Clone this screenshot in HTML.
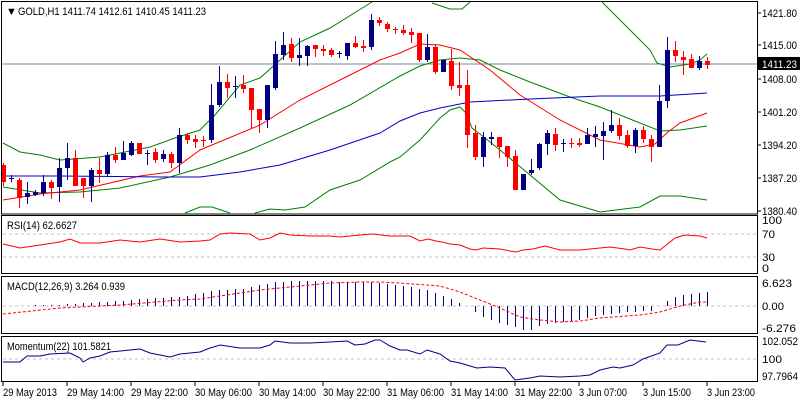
<!DOCTYPE html>
<html><head><meta charset="utf-8">
<style>
html,body{margin:0;padding:0;background:#fff;}
svg{display:block;font-family:"Liberation Sans",Tahoma,sans-serif;font-size:11px;}
</style></head>
<body>
<svg id="c" width="800" height="400" xmlns="http://www.w3.org/2000/svg"></svg>
<script>
var s='';
function L(pts,col,w,dash){s+='<polyline fill="none" stroke="'+col+'" stroke-width="'+(w||1)+'"'+(dash?' stroke-dasharray="'+dash+'"':'')+' points="'+pts.map(function(p){return p[0]+','+p[1]}).join(' ')+'"/>';}
function T(x,y,t,col,tl){s+='<text x="'+x+'" y="'+y+'" fill="'+(col||'#000')+'"'+(tl?' textLength="'+tl+'" lengthAdjust="spacingAndGlyphs"':'')+'>'+t+'</text>';}
function R(x,y,w,h,f,st){s+='<rect x="'+x+'" y="'+y+'" width="'+w+'" height="'+h+'" fill="'+(f||'none')+'"'+(st?' stroke="'+st+'"':'')+'/>';}
R(0,0,800,400,'#fff');
L([[3,64],[757,64]],'#778899');
L([[3,143],[20,152],[40,155],[60,160],[100,157],[150,147],[175,138],[200,130],[215,115],[240,85],[260,78],[300,42],[330,28],[372,2]],'#008000');
L([[432,3],[450,9],[462,9],[470,2]],'#008000');
L([[602,2],[630,30],[650,50],[657,63],[670,67],[690,64],[700,60],[707,54]],'#008000');
L([[3,187],[40,193],[80,192],[120,188],[170,177],[210,165],[250,150],[300,128],[350,105],[400,76],[420,66],[440,60],[460,58],[480,60],[500,70],[530,82],[570,97],[600,107],[640,123],[660,131],[680,130],[707,126]],'#008000');
L([[185,213],[200,207],[212,207],[230,213]],'#008000');
L([[255,213],[270,209],[285,210],[305,207],[330,190],[360,180],[390,162],[400,157],[420,140],[440,118],[450,110],[460,107],[466,113],[472,128],[480,134],[500,150],[530,175],[560,200],[600,212],[640,207],[660,196],[680,196],[707,200]],'#008000');
L([[3,200],[40,194],[80,190],[140,176],[170,172],[200,150],[260,125],[300,100],[340,80],[380,60],[400,53],[420,44],[440,45],[460,50],[490,70],[520,95],[560,120],[600,140],[640,147],[655,144],[668,132],[680,123],[707,113]],'#ff0000');
L([[3,176],[60,176],[160,177],[200,177],[240,172],[280,165],[330,150],[380,133],[400,121],[420,113],[440,108],[470,102],[530,99],[600,96],[660,96],[707,93]],'#0000cc');
var C=[[165,182,163,186,'r'],[178,178,175,182,'b'],[180,198,178,208,'r'],[193,197,182,204,'b'],[192,195,190,196,'b'],[182,193,175,196,'b'],[182,188,180,199,'r'],[168,187,158,202,'b'],[158,168,143,180,'b'],[158,186,150,186,'r'],[178,186,178,198,'r'],[170,186,168,202,'b'],[170,174,158,183,'r'],[155,174,152,176,'b'],[155,160,147,163,'r'],[153,160,141,160,'b'],[143,155,141,156,'b'],[143,154,143,154,'r'],[153,153,150,165,'b'],[152,160,148,163,'r'],[154,159,150,162,'b'],[154,163,152,168,'r'],[135,163,128,173,'b'],[135,140,133,144,'r'],[139,142,135,148,'r'],[140,141,136,147,'r'],[105,140,84,143,'b'],[82,105,66,107,'b'],[82,88,74,98,'r'],[86,86,76,98,'b'],[85,89,75,93,'r'],[88,110,88,128,'r'],[109,120,109,133,'r'],[85,120,85,128,'b'],[54,88,41,90,'b'],[45,55,32,60,'b'],[44,58,38,62,'r'],[55,58,38,66,'b'],[46,56,45,66,'b'],[45,49,45,57,'r'],[49,51,45,56,'r'],[50,55,48,57,'r'],[53,53,51,58,'b'],[43,56,43,60,'b'],[43,47,36,48,'r'],[46,48,40,52,'r'],[20,47,14,50,'b'],[20,23,17,26,'r'],[24,29,22,32,'r'],[29,30,27,34,'r'],[30,33,25,35,'r'],[32,35,28,43,'r'],[33,60,33,62,'r'],[47,60,34,62,'b'],[47,72,44,74,'r'],[60,72,60,72,'b'],[61,86,49,90,'r'],[85,88,62,96,'r'],[85,135,70,148,'r'],[133,157,125,160,'r'],[137,157,132,167,'b'],[137,139,132,145,'b'],[137,147,137,158,'r'],[146,157,146,167,'r'],[156,190,150,190,'r'],[174,190,174,190,'b'],[170,173,159,175,'b'],[144,168,143,170,'b'],[133,144,130,155,'b'],[134,145,128,151,'r'],[143,143,139,152,'b'],[143,144,138,148,'r'],[143,145,138,147,'r'],[135,144,128,144,'b'],[134,137,126,147,'b'],[131,136,122,160,'b'],[125,131,110,133,'b'],[125,136,118,140,'r'],[135,146,130,148,'r'],[130,146,128,153,'b'],[130,139,126,143,'r'],[139,147,135,162,'r'],[101,147,85,147,'b'],[50,101,37,108,'b'],[50,56,41,62,'r'],[57,60,51,75,'r'],[59,68,54,68,'r'],[61,68,56,70,'b'],[61,65,57,69,'r']];
for(var i=0;i<C.length;i++){var x=3+i*8,c=C[i],col=c[4]=='r'?'#ff0000':'#000080';
 s+='<line x1="'+(x+0.5)+'" y1="'+c[2]+'" x2="'+(x+0.5)+'" y2="'+c[3]+'" stroke="'+col+'"/>';
 var h=Math.max(1,c[1]-c[0]);R(x-2,c[0],5,h,col);}
s+='<g stroke="#000" fill="none"><rect x="1.5" y="1.5" width="756" height="212.5"/><rect x="1.5" y="215.5" width="756" height="58"/><rect x="1.5" y="276.5" width="756" height="57"/><rect x="1.5" y="336.5" width="756" height="45"/></g>';
var pl=[['1421.80',13],['1415.00',45],['1408.00',79],['1401.20',112],['1394.20',145],['1387.20',178],['1380.40',211]];
pl.forEach(function(p){L([[757,p[1]],[761,p[1]]],'#000');T(762,p[1]+4,p[0],'#000',35);});
R(758,57,42,13,'#000');T(762,68,'1411.23','#fff',35);
T(6,15,'\u25BC','#000');
T(18,15,'GOLD,H1  1411.74 1412.61 1410.45 1411.23','#000',188);
L([[3,234],[757,234]],'#c0c0c0',1,'3,3');L([[3,257],[757,257]],'#c0c0c0',1,'3,3');
L([[3,244],[20,248],[40,245],[60,242],[70,239],[80,243],[100,243],[120,240],[140,242],[160,239],[180,242],[200,241],[210,240],[220,234],[230,233],[250,234],[260,240],[270,238],[280,233],[290,235],[310,236],[330,236],[340,237],[360,235],[372,234],[390,236],[410,236],[420,241],[428,239],[436,241],[442,242],[450,244],[460,245],[470,249],[476,250],[483,248],[500,249],[510,251],[516,252],[523,250],[533,249],[545,246],[560,250],[580,250],[600,248],[610,247],[625,249],[630,250],[640,247],[652,249],[660,250],[675,238],[685,235],[700,236],[707,238]],'#ff0000');
T(7,229,'RSI(14) 62.6627','#000',70);
[['100',224,20],['70',238,13],['30',261,13],['0',272,7]].forEach(function(p){T(762,p[1],p[0],'#000',p[2]);});
L([[3,306],[757,306]],'#c0c0c0',1,'3,3');
var M=[[3,306],[59,305],[131,300],[179,297],[219,290],[243,289],[275,282],[307,281],[371,282],[395,285],[411,287],[427,290],[443,296],[451,299],[459,303],[467,306],[475,312],[483,317],[499,323],[515,327],[523,330],[531,330],[539,326],[555,323],[579,320],[595,316],[619,313],[651,311],[659,306],[667,301],[675,297],[691,294],[707,292]];
function interp(a,x){for(var j=0;j<a.length-1;j++){if(x>=a[j][0]&&x<=a[j+1][0]){var t=(x-a[j][0])/(a[j+1][0]-a[j][0]);return a[j][1]+t*(a[j+1][1]-a[j][1]);}}return a[a.length-1][1];}
for(var i=0;i<89;i++){var x=3+i*8+0.5,y=Math.round(interp(M,x));if(Math.abs(y-306)>=1)s+='<line x1="'+x+'" y1="306" x2="'+x+'" y2="'+y+'" stroke="#000080"/>';}
L([[3,314],[60,308],[120,305],[180,300],[200,299],[220,296],[260,290],[300,286],[330,283],[360,282],[380,282],[400,283],[440,286],[460,292],[480,300],[500,308],[520,317],[540,320],[560,322],[580,321],[600,318],[640,315],[660,312],[680,306],[700,302],[707,302]],'#ff0000',1,'3,2');
T(7,290,'MACD(12,26,9) 3.264 0.939','#000',118);
[['6.623',287,30],['0.00',310,22],['-6.276',332,34]].forEach(function(p){T(762,p[1],p[0],'#000',p[2]);});
L([[3,359],[757,359]],'#c0c0c0',1,'3,3');
L([[3,362],[20,362],[27,356],[40,356],[50,354],[70,353],[80,358],[83,362],[90,358],[100,356],[110,352],[130,350],[140,349],[150,353],[160,355],[170,357],[180,354],[200,352],[210,348],[220,345],[240,348],[260,348],[270,345],[275,341],[290,343],[310,343],[330,342],[347,341],[355,345],[365,344],[375,340],[380,340],[390,346],[400,350],[407,350],[420,354],[427,350],[440,354],[450,361],[460,363],[470,366],[477,368],[490,367],[505,368],[515,380],[530,378],[540,376],[560,377],[580,376],[590,375],[600,370],[613,367],[620,368],[633,365],[643,359],[660,353],[667,345],[678,345],[690,340],[706,342]],'#000080');
T(7,350,'Momentum(22) 101.5821','#000',104);
[['102.052',345,36],['100',363,20],['97.7964',380,36]].forEach(function(p){T(762,p[1],p[0],'#000',p[2]);});
var tl=['29 May 2013','29 May 14:00','29 May 22:00','30 May 06:00','30 May 14:00','30 May 22:00','31 May 06:00','31 May 14:00','31 May 22:00','3 Jun 07:00','3 Jun 15:00','3 Jun 23:00'];
var tw=[54,57,57,57,57,57,57,57,57,48,48,48];
for(var k=0;k<tl.length;k++){var x=3+k*64;L([[x,382],[x,386]],'#000');T(x,396,tl[k],'#000',tw[k]);}
document.getElementById('c').innerHTML=s;
</script>
</body></html>
